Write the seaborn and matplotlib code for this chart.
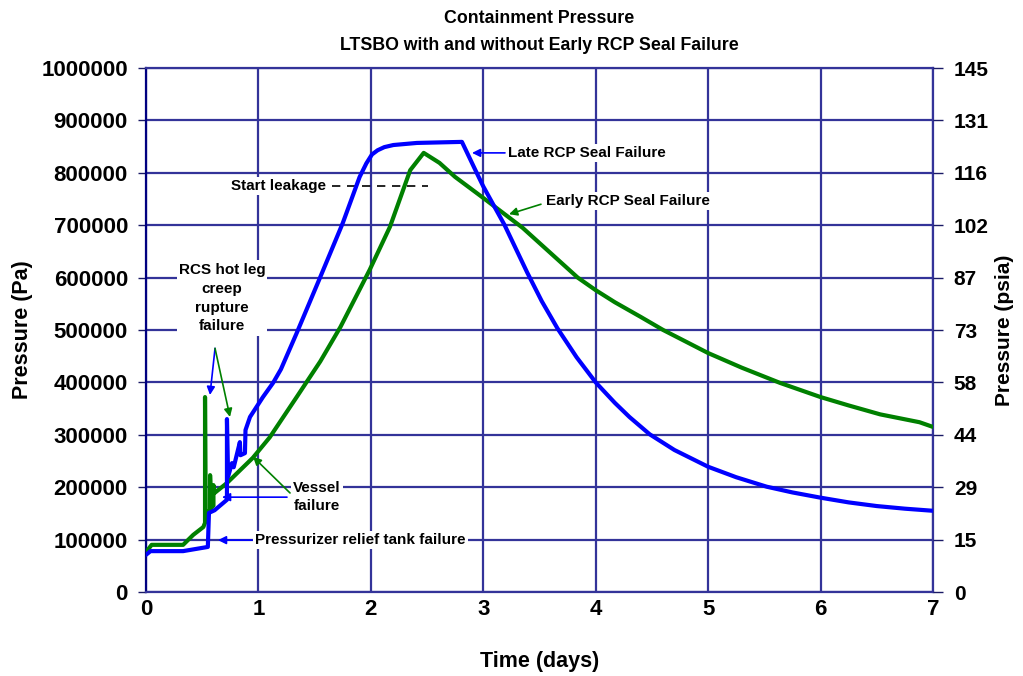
import matplotlib
matplotlib.use("Agg")
import matplotlib.pyplot as plt
from matplotlib.ticker import MultipleLocator
import pandas as pd
import seaborn as sns

# late RCP seal failure (blue)
late_days = [0.0, 0.04, 0.33, 0.55, 0.56, 0.61, 0.72, 0.72, 0.73, 0.765, 0.78,
             0.835, 0.84, 0.88, 0.885, 0.925, 1.04, 1.13, 1.2, 1.34, 1.55, 1.75,
             1.90, 1.96, 2.01, 2.06, 2.12, 2.2, 2.41, 2.81, 2.93, 3.0, 3.19, 3.39,
             3.52, 3.66, 3.83, 4.0, 4.17, 4.3, 4.48, 4.7, 5.0, 5.25, 5.52, 5.75,
             6.0, 6.25, 6.5, 6.75, 7.0]
late_pa = [71000, 78000, 78000, 86000, 151000, 156000, 176000, 330000, 220000,
           246000, 238000, 286000, 261000, 265000, 309000, 334000, 372000, 399000,
           425000, 494000, 601000, 704000, 792000, 818000, 835000, 843000, 849000,
           853000, 857000, 859000, 805000, 774000, 700000, 610000, 555000, 503000,
           448000, 400000, 361000, 334000, 301000, 271000, 239000, 219000, 201000,
           190000, 180000, 171000, 164000, 159000, 155000]

# early RCP seal failure (green)
early_days = [0.0, 0.05, 0.33, 0.42, 0.51, 0.525, 0.525, 0.53, 0.57, 0.57, 0.58,
              0.60, 0.60, 0.61, 0.72, 0.95, 1.1, 1.34, 1.55, 1.73, 1.99, 2.17,
              2.35, 2.47, 2.61, 2.75, 3.0, 3.35, 3.84, 4.0, 4.17, 4.4, 4.6, 5.0,
              5.3, 5.64, 6.0, 6.25, 6.53, 6.88, 7.0]
early_pa = [76000, 90000, 90000, 109000, 124000, 132000, 372000, 151000, 156000,
            223000, 160000, 165000, 204000, 189000, 208000, 256000, 295000, 372000,
            440000, 506000, 615000, 697000, 805000, 838000, 819000, 792000, 752000,
            695000, 600000, 576000, 553000, 525000, 500000, 456000, 428000, 399000,
            372000, 356000, 339000, 324000, 315000]

pa_ticks = [0, 100000, 200000, 300000, 400000, 500000, 600000, 700000, 800000,
            900000, 1000000]
PA_TO_PSI = 1.45038e-4

late = pd.DataFrame({"day": late_days, "pa": late_pa})
early = pd.DataFrame({"day": early_days, "pa": early_pa})

sns.set_style("white")
plt.rcParams["font.family"] = ["Liberation Sans", "DejaVu Sans"]
plt.rcParams["font.weight"] = "bold"
plt.rcParams["text.color"] = "black"
plt.rcParams["axes.labelcolor"] = "black"
plt.rcParams["xtick.color"] = "black"
plt.rcParams["ytick.color"] = "black"

navy = "#333399"
tick_c = "#1a1a66"
blue = "#0000ff"
green = "#008000"

fig = plt.figure(figsize=(10.23, 6.76), dpi=100)
ax = fig.add_axes([146 / 1023, 1 - 592 / 676, (933 - 146) / 1023, (592 - 68) / 676])

sns.lineplot(data=early, x="day", y="pa", sort=False, estimator=None,
             color=green, lw=3, ax=ax, zorder=4)
sns.lineplot(data=late, x="day", y="pa", sort=False, estimator=None,
             color=blue, lw=3, ax=ax, zorder=5)

ax.set_xlim(0, 7)
ax.set_ylim(0, 1000000)
ax.set_yticks(pa_ticks)
ax.set_yticklabels([str(v) for v in pa_ticks])
ax.xaxis.set_major_locator(MultipleLocator(1))
ax.xaxis.set_minor_locator(MultipleLocator(0.25))
ax.grid(True, which="major", color=navy, lw=1.6)
ax.set_axisbelow(True)
for s in ax.spines.values():
    s.set_color(navy)
    s.set_linewidth(1.6)
ax.spines["left"].set_color("#000080")

ax.tick_params(axis="y", which="major", direction="out", length=6, width=1,
               color=tick_c, labelsize=16, pad=7)
ax.tick_params(axis="x", which="major", direction="inout", length=10, width=1,
               color=tick_c, labelsize=16, pad=0)
ax.tick_params(axis="x", which="minor", direction="in", length=4, width=1,
               color=tick_c)
for lab in ax.get_xticklabels() + ax.get_yticklabels():
    lab.set_fontweight("bold")

ax.set_xlabel("Time (days)", fontsize=15.5, fontweight="bold", labelpad=22)
ax.set_ylabel("Pressure (Pa)", fontsize=15.5, fontweight="bold", labelpad=6)
ax.set_title("Containment Pressure\nLTSBO with and without Early RCP Seal Failure",
             fontsize=12.8, fontweight="bold", pad=13, linespacing=1.75)

ax2 = ax.twinx()
ax2.set_ylim(0, 1000000)
ax2.set_yticks(pa_ticks)
ax2.set_yticklabels([str(int(round(v * PA_TO_PSI))) for v in pa_ticks])
ax2.tick_params(axis="y", direction="out", length=7, width=1, color=tick_c,
                labelsize=15, pad=8)
for lab in ax2.get_yticklabels():
    lab.set_fontweight("bold")
ax2.set_ylabel("Pressure (psia)", fontsize=15, fontweight="bold", labelpad=4)
for s in ax2.spines.values():
    s.set_visible(False)

# annotations
box = dict(facecolor="white", edgecolor="none", pad=1.5)
fs = 11


def arrow(x0, y0, x1, y1, c):
    ax.annotate("", xy=(x1, y1), xytext=(x0, y0),
                arrowprops=dict(arrowstyle="-|>", color=c, lw=1.2,
                                mutation_scale=12, shrinkA=0, shrinkB=0),
                zorder=6)


ax.text(0.676, 561000, "RCS hot leg\ncreep\nrupture\nfailure", ha="center",
        va="center", fontsize=fs, fontweight="bold", linespacing=1.45,
        bbox=box, zorder=6)
arrow(0.614, 465000, 0.569, 376000, blue)
arrow(0.614, 465000, 0.747, 334000, green)

ax.text(1.521, 181000, "Vessel\nfailure", ha="center", va="center", fontsize=fs,
        fontweight="bold", linespacing=1.4, bbox=box, zorder=6)
arrow(1.281, 189000, 0.952, 258000, green)
arrow(1.254, 181000, 0.676, 181000, blue)

ax.text(0.97, 99000, "Pressurizer relief tank failure", ha="left", va="center",
        fontsize=fs, fontweight="bold", bbox=box, zorder=6)
arrow(0.943, 99000, 0.640, 99000, blue)

ax.text(1.601, 775000, "Start leakage", ha="right", va="center", fontsize=fs,
        fontweight="bold", bbox=box, zorder=6)
ax.plot([1.65, 2.51], [775000, 775000], color="black", lw=1.2,
        ls=(0, (5, 4)), zorder=3)

ax.text(3.22, 838000, "Late RCP Seal Failure", ha="left", va="center",
        fontsize=fs, fontweight="bold", bbox=box, zorder=6)
arrow(3.193, 838000, 2.90, 838000, blue)

ax.text(3.558, 746000, "Early RCP Seal Failure", ha="left", va="center",
        fontsize=fs, fontweight="bold", bbox=box, zorder=6)
arrow(3.513, 740000, 3.229, 721000, green)

fig.savefig("out.png", dpi=100)
